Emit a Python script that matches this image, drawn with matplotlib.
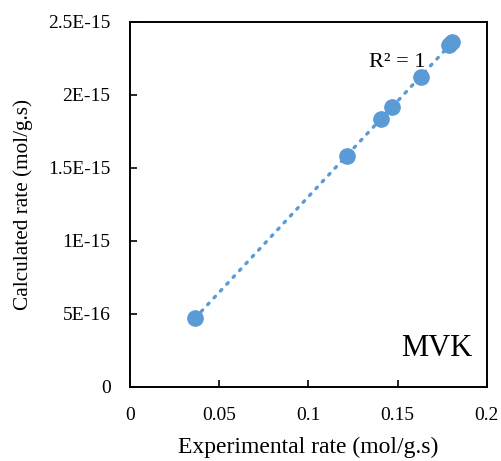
import matplotlib
matplotlib.use("Agg")
import matplotlib.pyplot as plt
import numpy as np

plt.rcParams['font.family'] = ['Liberation Serif', 'DejaVu Serif']

# values
exp_rate = [0.0364, 0.1215, 0.1406, 0.1467, 0.1632, 0.1791, 0.1808]
calc_rate = [4.68e-16, 1.583e-15, 1.835e-15, 1.915e-15, 2.125e-15, 2.339e-15, 2.363e-15]
x_ticks = [0, 0.05, 0.1, 0.15, 0.2]
x_tick_labels = ['0', '0.05', '0.1', '0.15', '0.2']
y_ticks = [0, 5e-16, 1e-15, 1.5e-15, 2e-15, 2.5e-15]
y_tick_labels = ['0', '5E-16', '1E-15', '1.5E-15', '2E-15', '2.5E-15']
blue = '#5B9BD5'

fig = plt.figure(figsize=(5.01, 4.61), dpi=100)
ax = fig.add_axes([0.2595, 0.1616, 0.7119, 0.7907])

x = np.array(exp_rate)
y = np.array(calc_rate)
slope, icept = np.polyfit(x, y, 1)
xs = np.array([x.min(), x.max()])
ax.plot(xs, slope * xs + icept, linestyle=(0, (0.6, 2.2)), color=blue,
        linewidth=2.4, dash_capstyle='round', zorder=2)
ax.plot(x, y, 'o', color=blue, markersize=11, zorder=3)

ax.set_xlim(0, 0.2)
ax.set_ylim(0, 2.5e-15)
ax.set_xticks(x_ticks)
ax.set_xticklabels(x_tick_labels)
ax.set_yticks(y_ticks)
ax.set_yticklabels(y_tick_labels)
ax.tick_params(direction='in', length=5, width=1.2, labelsize=14, colors='black')
ax.tick_params(axis='y', pad=14)
ax.tick_params(axis='x', pad=15)
for s in ax.spines.values():
    s.set_linewidth(1.4)
    s.set_color('black')

ax.set_xlabel('Experimental rate (mol/g.s)', fontsize=17, labelpad=9)
ax.set_ylabel('Calculated rate (mol/g.s)', fontsize=15.3, labelpad=11)

ax.text(0.1497, 2.22e-15, 'R² = 1', fontsize=16, ha='center', va='center')
ax.text(0.192, 2.09e-16, 'MVK', fontsize=22, ha='right', va='baseline')

fig.savefig('out.png', dpi=100)
